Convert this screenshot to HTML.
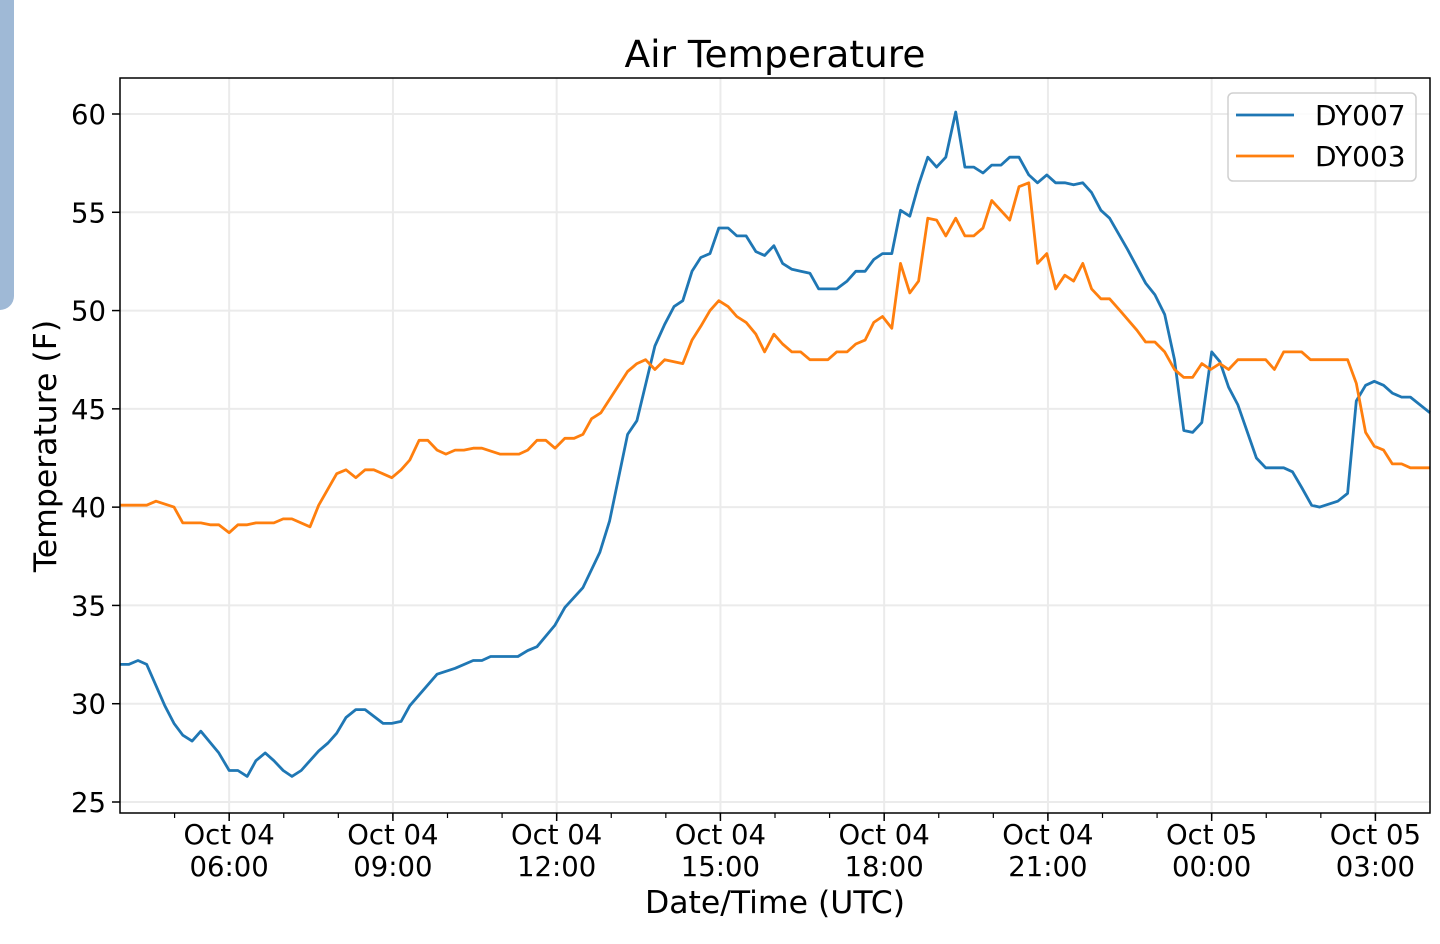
<!DOCTYPE html>
<html><head><meta charset="utf-8"><style>
body{margin:0;background:#fff;width:1440px;height:944px;overflow:hidden;font-family:"Liberation Sans","DejaVu Sans",sans-serif}
svg text{font-family:"DejaVu Sans","Liberation Sans",sans-serif;fill:#000}
</style></head><body>
<div style="position:absolute;left:-20px;top:-20px;width:34px;height:330px;background:#9fb9d6;border-radius:0 0 14px 0"></div>
<svg id="chart" width="1440" height="944" style="position:absolute;left:0;top:0"></svg>
<script>
const hoursA=[0,0.16,0.33,0.49,0.82,0.99,1.15,1.32,1.48,1.81,2.0,2.16,2.33,2.49,2.66,2.82,2.99,3.15,3.32,3.64,3.81,3.97,4.14,4.32,4.49,4.82,4.98,5.15,5.31,5.81,6.14,6.47,6.63,6.79,7.29,7.47,7.64,7.97,8.15,8.48,8.79,8.97,9.30,9.47,9.80,9.98,10.15,10.31,10.48,10.64,10.81,10.97,11.14,11.30,11.47,11.65,11.81,11.98,12.14,12.31,12.47,12.64,12.80,13.13,13.32,13.48,13.65,13.81,13.97,14.14,14.30,14.47,14.63,14.80,14.96,15.13,15.31,15.48,15.64,15.81,15.97,16.14,16.30,16.47,16.65,16.81,16.98,17.14,17.31,17.47,17.64,17.80,17.97,18.13,18.46,18.79,18.96,19.14,19.32,19.49,19.65,19.82,20.0,20.15,20.31,20.48,20.82,20.99,21.32,21.48,21.65,21.83,21.98,22.31,22.49,22.65,22.82,22.98,23.15,23.31,23.48,23.64,24.0];
const dy007=[32.0,32.0,32.2,32.0,29.9,29.0,28.4,28.1,28.6,27.5,26.6,26.6,26.3,27.1,27.5,27.1,26.6,26.3,26.6,27.6,28.0,28.5,29.3,29.7,29.7,29.0,29.0,29.1,29.9,31.5,31.8,32.2,32.2,32.4,32.4,32.7,32.9,34.0,34.9,35.9,37.7,39.3,43.7,44.4,48.2,49.3,50.2,50.5,52.0,52.7,52.9,54.2,54.2,53.8,53.8,53.0,52.8,53.3,52.4,52.1,52.0,51.9,51.1,51.1,51.5,52.0,52.0,52.6,52.9,52.9,55.1,54.8,56.4,57.8,57.3,57.8,60.1,57.3,57.3,57.0,57.4,57.4,57.8,57.8,56.9,56.5,56.9,56.5,56.5,56.4,56.5,56.0,55.1,54.7,53.1,51.4,50.8,49.8,47.5,43.9,43.8,44.3,47.9,47.4,46.1,45.2,42.5,42.0,42.0,41.8,41.0,40.1,40.0,40.3,40.7,45.4,46.2,46.4,46.2,45.8,45.6,45.6,44.8];
const hoursB=[0,0.49,0.66,0.99,1.15,1.48,1.65,1.81,2.0,2.16,2.33,2.49,2.82,2.99,3.15,3.48,3.64,3.97,4.14,4.32,4.49,4.65,4.98,5.15,5.31,5.48,5.64,5.81,5.97,6.14,6.30,6.47,6.63,6.96,7.31,7.47,7.64,7.80,7.97,8.15,8.32,8.48,8.64,8.81,9.30,9.47,9.63,9.80,9.98,10.31,10.48,10.64,10.81,10.97,11.14,11.30,11.47,11.65,11.81,11.98,12.14,12.31,12.47,12.64,12.97,13.13,13.32,13.48,13.65,13.81,13.97,14.14,14.30,14.47,14.63,14.80,14.96,15.13,15.31,15.48,15.64,15.81,15.97,16.30,16.47,16.65,16.81,16.98,17.14,17.31,17.47,17.64,17.80,17.97,18.13,18.32,18.63,18.79,18.96,19.14,19.32,19.49,19.65,19.82,19.98,20.15,20.31,20.48,20.99,21.15,21.32,21.65,21.81,22.49,22.65,22.82,22.98,23.15,23.31,23.48,23.64,24.0];
const dy003=[40.1,40.1,40.3,40.0,39.2,39.2,39.1,39.1,38.7,39.1,39.1,39.2,39.2,39.4,39.4,39.0,40.1,41.7,41.9,41.5,41.9,41.9,41.5,41.9,42.4,43.4,43.4,42.9,42.7,42.9,42.9,43.0,43.0,42.7,42.7,42.9,43.4,43.4,43.0,43.5,43.5,43.7,44.5,44.8,46.9,47.3,47.5,47.0,47.5,47.3,48.5,49.2,50.0,50.5,50.2,49.7,49.4,48.8,47.9,48.8,48.3,47.9,47.9,47.5,47.5,47.9,47.9,48.3,48.5,49.4,49.7,49.1,52.4,50.9,51.5,54.7,54.6,53.8,54.7,53.8,53.8,54.2,55.6,54.6,56.3,56.5,52.4,52.9,51.1,51.8,51.5,52.4,51.1,50.6,50.6,50.0,49.0,48.4,48.4,47.9,47.0,46.6,46.6,47.3,47.0,47.3,47.0,47.5,47.5,47.0,47.9,47.9,47.5,47.5,46.3,43.8,43.1,42.9,42.2,42.2,42.0,42.0];
const yTicks=[25,30,35,40,45,50,55,60];
const xTickHours=[2,5,8,11,14,17,20,23];
const xTickLabels=[["Oct 04","06:00"],["Oct 04","09:00"],["Oct 04","12:00"],["Oct 04","15:00"],["Oct 04","18:00"],["Oct 04","21:00"],["Oct 05","00:00"],["Oct 05","03:00"]];

const L=120,R=1430,T=78,B=813;
const xS=h=>L+(R-L)*h/24;
const yS=v=>114+(60-v)*(802-114)/35;
const svg=document.getElementById('chart');
const NS='http://www.w3.org/2000/svg';
function mk(tag,attrs,parent){const e=document.createElementNS(NS,tag);for(const k in attrs)e.setAttribute(k,attrs[k]);(parent||svg).appendChild(e);return e;}

yTicks.forEach(v=>{const g=mk('line',{x1:L,x2:R,y1:yS(v),y2:yS(v),stroke:'#ebebeb','stroke-width':2});

});
xTickHours.forEach(h=>{const g=mk('line',{x1:xS(h),x2:xS(h),y1:T,y2:B,stroke:'#ebebeb','stroke-width':2});

});

function series(hs,vs,color,name){
  const d=hs.map((h,i)=>(i?'L':'M')+xS(h).toFixed(1)+' '+yS(vs[i]).toFixed(1)).join(' ');
  const p=mk('path',{d:d,fill:'none',stroke:color,'stroke-width':2.8,'stroke-linejoin':'round'});
  
  
}
series(hoursA,dy007,'#1f77b4','dy007-line');
series(hoursB,dy003,'#ff7f0e','dy003-line');

const fr=mk('rect',{x:L,y:T,width:R-L,height:B-T,fill:'none',stroke:'#000','stroke-width':1.5});



yTicks.forEach(v=>{
  mk('line',{x1:L-8,x2:L,y1:yS(v),y2:yS(v),stroke:'#000','stroke-width':1.5});
  const t=mk('text',{x:L-14,y:yS(v)+10,'text-anchor':'end','font-size':27.5});
  t.textContent=v;
  
  
});
for(let h=1;h<24;h++){mk('line',{x1:xS(h),x2:xS(h),y1:B,y2:B+5,stroke:'#000','stroke-width':1.2});}
xTickHours.forEach((h,i)=>{
  mk('line',{x1:xS(h),x2:xS(h),y1:B,y2:B+8,stroke:'#000','stroke-width':1.5});
  const t=mk('text',{x:xS(h),y:844,'text-anchor':'middle','font-size':27.5});
  t.textContent=xTickLabels[i][0];
  
  
  const t2=mk('text',{x:xS(h),y:876,'text-anchor':'middle','font-size':27.5});
  t2.textContent=xTickLabels[i][1];
  
  
});
const title=mk('text',{x:775,y:67,'text-anchor':'middle','font-size':37.5});
title.textContent='Air Temperature';


const xl=mk('text',{x:775,y:913,'text-anchor':'middle','font-size':31.5});
xl.textContent='Date/Time (UTC)';


const yl=mk('text',{x:0,y:0,'text-anchor':'middle','font-size':31.5,transform:'translate(56,446) rotate(-90)'});
yl.textContent='Temperature (F)';



const lg=mk('g',{});


mk('rect',{x:1228,y:93,width:188,height:88,rx:5,fill:'#fff','fill-opacity':0.85,stroke:'#d0d0d0','stroke-width':1.5},lg);
[['DY007','#1f77b4',115],['DY003','#ff7f0e',156]].forEach(([n,c,y])=>{
  const e=mk('g',{},lg);
  
  
  mk('line',{x1:1236,x2:1294,y1:y,y2:y,stroke:c,'stroke-width':2.8},e);
  const t=mk('text',{x:1315,y:y+10,'font-size':28},e);t.textContent=n;
});
</script>
</body></html>
